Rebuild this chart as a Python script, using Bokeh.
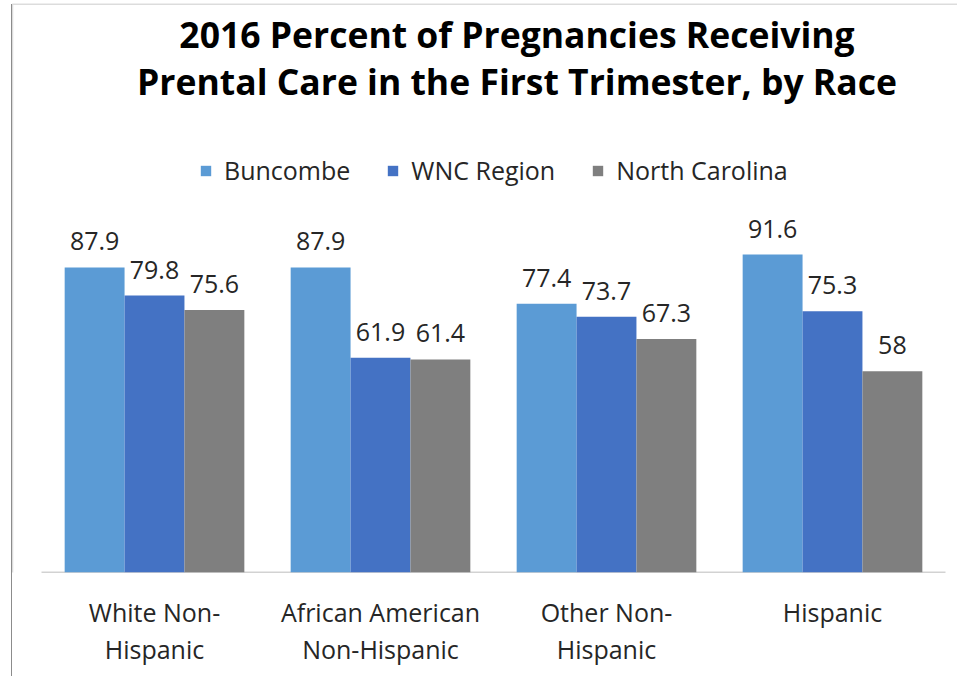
from bokeh.plotting import figure
from bokeh.models import (ColumnDataSource, LabelSet, Label, Legend, LegendItem, BoxAnnotation,
                          FixedTicker, Range1d, InlineStyleSheet)
from bokeh.core.properties import value
from bokeh.embed import file_html
from bokeh.resources import INLINE

categories = ["White Non-\nHispanic", "African American\nNon-Hispanic", "Other Non-\nHispanic", "Hispanic"]
series_names = ["Buncombe", "WNC Region", "North Carolina"]
buncombe = [87.9, 87.9, 77.4, 91.6]
wnc_region = [79.8, 61.9, 73.7, 75.3]
north_carolina = [75.6, 61.4, 67.3, 58]
title_lines = ["2016 Percent of Pregnancies Receiving", "Prental Care in the First Trimester, by Race"]

colors = ["#5B9BD5", "#4472C4", "#7F7F7F"]
FONT = "Open Sans"

n = len(categories)
centers = [i + 0.5 for i in range(n)]

p = figure(width=957, height=676, x_range=Range1d(-0.1372, 4.0531),
           y_range=Range1d(0, 164.8), output_backend="svg", toolbar_location=None,
           min_border_left=10, min_border_right=0, min_border_top=0, min_border_bottom=104)
p.outline_line_color = None
p.background_fill_color = "white"
p.border_fill_color = "white"
p.xgrid.grid_line_color = None
p.ygrid.grid_line_color = None
p.yaxis.visible = False

ax = p.xaxis[0]
ax.ticker = FixedTicker(ticks=centers)
ax.major_label_overrides = {c: lab for c, lab in zip(centers, categories)}
ax.axis_line_color = None
ax.major_tick_line_color = None
ax.minor_tick_line_color = None
ax.major_tick_out = 0
ax.major_tick_in = 0
ax.major_label_standoff = 22
ax.major_label_text_font = FONT
ax.major_label_text_font_size = "25px"
ax.major_label_text_color = "#262626"
ax.major_label_text_line_height = 1.1

# category baseline (axis line) spanning the category band only
p.segment(x0=[0], x1=[n], y0=[0], y1=[0], line_color="#A6A6A6", line_width=1.5)

offsets = [-0.265, 0.0, 0.265]
series_vals = [buncombe, wnc_region, north_carolina]
items = []
for off, vals, col, name in zip(offsets, series_vals, colors, series_names):
    src = ColumnDataSource(data=dict(
        x=[c + off for c in centers], top=vals, lbl=[f"{v:g}" for v in vals]))
    r = p.vbar(x="x", top="top", width=0.265, source=src, fill_color=col, line_color=None)
    items.append(LegendItem(label=name, renderers=[r]))
    p.add_layout(LabelSet(x="x", y="top", text="lbl", source=src,
                          text_align="center", text_baseline="alphabetic", y_offset=17,
                          text_font=value(FONT), text_font_size="25px", text_color="#262626"))

legend = Legend(items=items, orientation="horizontal", location=(189, 385),
                label_text_font=FONT, label_text_font_size="25px", label_text_color="#262626",
                glyph_width=13, glyph_height=13, label_standoff=12, spacing=36,
                padding=0, margin=0, border_line_color=None, background_fill_alpha=0)
p.add_layout(legend, "center")

for txt, yy in zip(title_lines, [155.1, 141.5]):
    p.add_layout(Label(x=2.104, y=yy, text=txt, text_align="center", text_baseline="alphabetic",
                       text_font=FONT, text_font_size="35.5px", text_font_style="bold",
                       text_color="black"))

# chart-area border: left edge and top edge
p.add_layout(BoxAnnotation(left=-0.1283, right=100, top=163.7, bottom=-1000,
                           fill_alpha=0, line_color="#8C8C8C", line_width=1.5))
# continuation of the left border below the plotting frame
p.stylesheets = [InlineStyleSheet(css=(
    ":host::after { content: ''; position: absolute; left: 11px; top: 4px; "
    "width: 0; height: 700px; border-left: 1.5px solid #8C8C8C; z-index: 10; pointer-events: none; }"
))]

open("out.html", "w").write(file_html(p, INLINE))
